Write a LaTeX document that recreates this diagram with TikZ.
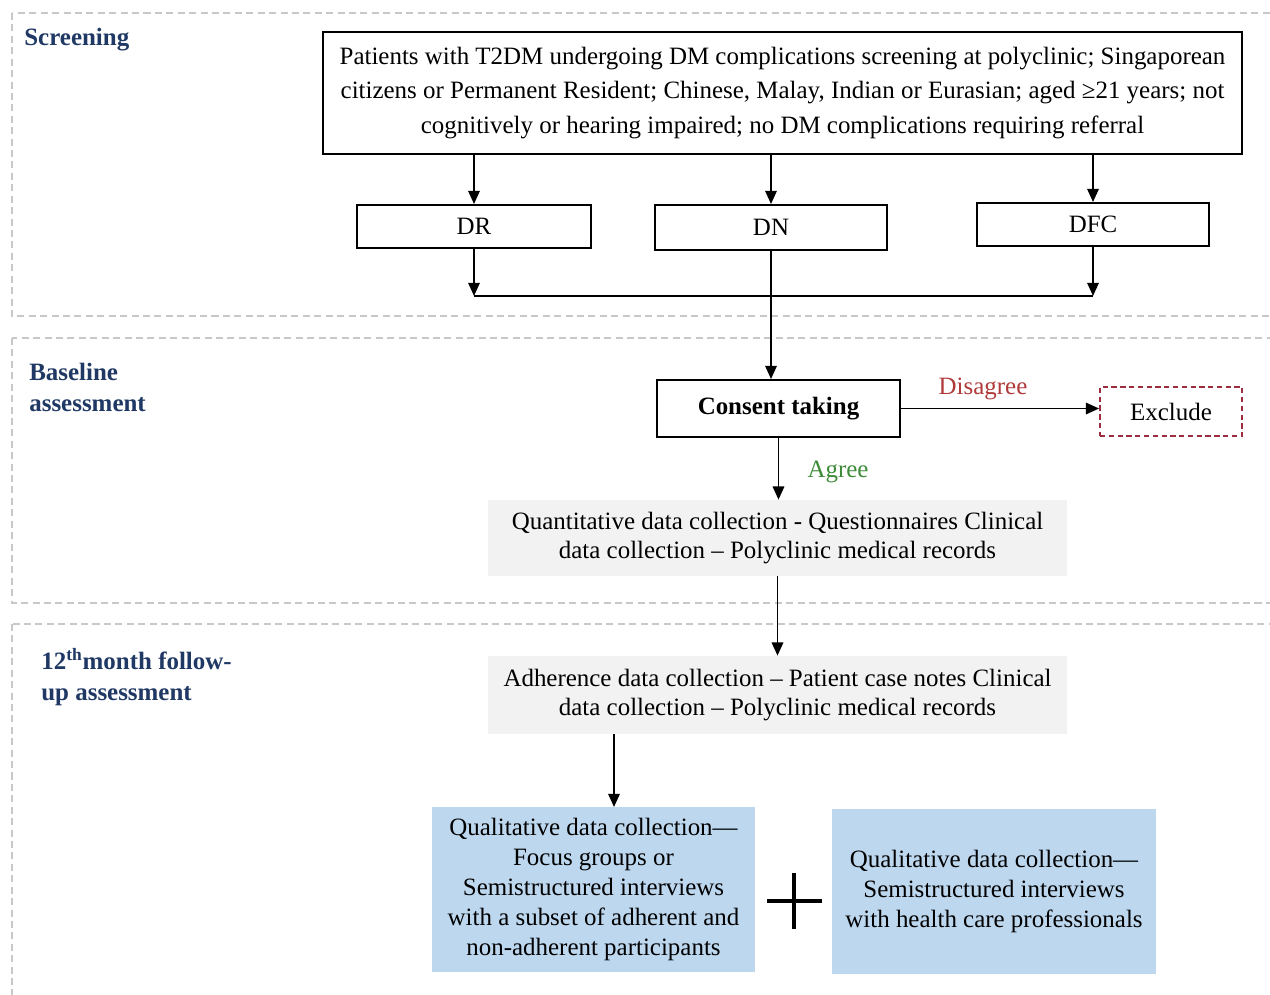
\documentclass[tikz,border=0pt]{standalone}
\usepackage{fontspec}
\setmainfont{Liberation Serif}
\usetikzlibrary{arrows.meta}
\definecolor{navyText}{HTML}{1F3864}
\definecolor{greyFill}{HTML}{F2F2F2}
\definecolor{blueFill}{HTML}{BDD7EE}
\definecolor{panelGray}{HTML}{C8C8C8}
\definecolor{disagreeRed}{HTML}{B03A3A}
\definecolor{agreeGreen}{HTML}{3D8B37}
\definecolor{excludeRed}{HTML}{9B2D3E}

\begin{document}
\begin{tikzpicture}[x=0.02cm, y=-0.02cm, >={Triangle[length=7.5pt,width=6.5pt]},
        every node/.style={font=\fontsize{14.2}{17}\selectfont}]
        \tikzstyle{panelStyle} = [draw=panelGray, line width=0.6pt, dash pattern=on 4pt off 2.5pt]
        \tikzstyle{boxStyle} = [draw=black, line width=1.1pt, align=center, inner sep=0pt]
        \tikzstyle{greyBox} = [fill=greyFill, align=center, inner sep=0pt]
        \tikzstyle{blueBox} = [fill=blueFill, align=center, inner sep=0pt]
        \tikzstyle{stageLabel} = [anchor=north west, align=left, inner sep=0pt, text=navyText,
            font=\fontsize{14.2}{17.6}\selectfont\bfseries]
        \tikzstyle{arrowEdge} = [draw=black, line width=1.1pt, ->]
        \useasboundingbox (0,0) rectangle (1270,994);
        \clip (0,0) rectangle (1270,994);
        % stage panels
        \draw[panelStyle] (12,13) rectangle (1280,316);
        \draw[panelStyle] (12,338) rectangle (1280,603);
        \draw[panelStyle] (12,624) rectangle (1280,1010);
        \node[stageLabel] (screening) at (24,28) {Screening};
        \node[stageLabel] (baseline) at (29,363) {Baseline\\assessment};
        \node[stageLabel] (followup) at (41,648) {12\textsuperscript{th}month follow-\\up assessment};
        % screening
        \node[boxStyle, minimum width=18.38cm, minimum height=2.44cm,
            font=\fontsize{14.2}{19.4}\selectfont] (patients) at (782.5,93)
            {Patients with T2DM undergoing DM complications screening at polyclinic; Singaporean\\
             citizens or Permanent Resident; Chinese, Malay, Indian or Eurasian; aged ≥21 years; not\\
             cognitively or hearing impaired; no DM complications requiring referral};
        \node[boxStyle, minimum width=4.68cm, minimum height=0.86cm] (dr) at (474,226.5) {DR};
        \node[boxStyle, minimum width=4.64cm, minimum height=0.9cm] (dn) at (771,227.5) {DN};
        \node[boxStyle, minimum width=4.64cm, minimum height=0.86cm] (dfc) at (1093,224.5) {DFC};
        \coordinate (joinL) at (474,296);
        \coordinate (joinR) at (1093,296);
        \foreach \to in {dr,dn,dfc}
            \draw[arrowEdge] (patients.south -| \to) -- (\to.north);
        \draw[arrowEdge] (dr) -- (joinL);
        \draw[arrowEdge] (dfc) -- (joinR);
        \draw[line width=1.1pt] (joinL) -- (joinR);
        % baseline
        \node[boxStyle, minimum width=4.86cm, minimum height=1.14cm, font=\fontsize{14.2}{17}\selectfont\bfseries]
            (consent) at (778.5,408.5) {Consent taking};
        \node[boxStyle, draw=excludeRed, dash pattern=on 3pt off 2pt, minimum width=2.84cm,
            minimum height=0.98cm] (exclude) at (1171,411.5) {Exclude};
        \node[greyBox, minimum width=11.58cm, minimum height=1.52cm] (quant) at (777.5,538)
            {Quantitative data collection - Questionnaires Clinical\\data collection – Polyclinic medical records};
        \node[text=disagreeRed] (disagree) at (983,389) {Disagree};
        \node[text=agreeGreen] (agree) at (838,472) {Agree};
        \draw[arrowEdge] (dn) -- (dn |- consent.north);
        \draw[arrowEdge] (consent) -- (consent -| exclude.west);
        \draw[arrowEdge] (consent.south) -- (consent.south |- quant.north);
        % follow-up
        \node[greyBox, minimum width=11.58cm, minimum height=1.56cm] (adh) at (777.5,695)
            {Adherence data collection – Patient case notes Clinical\\data collection – Polyclinic medical records};
        \node[blueBox, minimum width=6.46cm, minimum height=3.3cm] (qualA) at (593.5,889.5)
            {Qualitative data collection—\\Focus groups or\\Semistructured interviews\\with a subset of adherent and\\non-adherent participants};
        \node[blueBox, minimum width=6.48cm, minimum height=3.3cm] (qualB) at (994,891.5)
            {Qualitative data collection—\\Semistructured interviews\\with health care professionals};
        \coordinate (qualTop) at (614,807);
        \draw[arrowEdge] (quant.south) -- (quant.south |- adh.north);
        \draw[arrowEdge] (adh.south -| qualTop) -- (qualTop);
        \draw[line width=2.5pt] (767,901) -- (822,901) (794,873) -- (794,929);
\end{tikzpicture}
\end{document}
